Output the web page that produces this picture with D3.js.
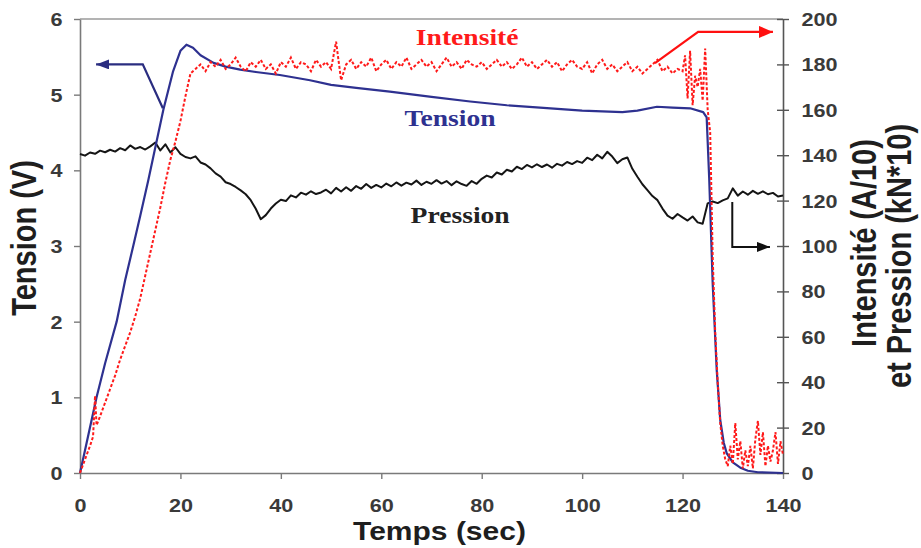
<!DOCTYPE html>
<html>
<head>
<meta charset="utf-8">
<script src="https://cdn.jsdelivr.net/npm/d3@7"></script>
<style>
  body { margin: 0; background: #fff; }
  svg { display: block; }
</style>
</head>
<body>
<svg id="chart" width="921" height="548"></svg>
<script>
// Welding run: voltage (left axis), current and electrode force (right axis) versus time.

const timeTicks = [0, 20, 40, 60, 80, 100, 120, 140];
const voltTicks = [0, 1, 2, 3, 4, 5, 6];
const rightTicks = [0, 20, 40, 60, 80, 100, 120, 140, 160, 180, 200];

// Tension (V): [time s, volts]
const tension = [
  [0,0],[1,0.3],[3.3,1],[5,1.45],[7.3,2.0],[9,2.55],[10.6,3.0],[12,3.4],[13.6,3.87],
  [16.6,4.8],[18.5,5.3],[20,5.58],[21.2,5.66],[22.5,5.62],[24,5.52],[26.6,5.42],
  [29,5.37],[31.9,5.33],[35,5.3],[39.8,5.26],[45.8,5.19],[50,5.13],[55,5.09],
  [61.7,5.04],[70,4.97],[77.7,4.91],[85,4.86],[91.6,4.83],[100,4.79],[108,4.77],
  [111,4.79],[114.9,4.84],[118,4.83],[121.5,4.82],[124.1,4.77],[124.8,4.7],
  [125.3,3.9],[126,2.5],[126.8,1.36],[127.5,0.7],[128.2,0.4],[128.8,0.26],
  [130,0.14],[131.5,0.07],[133,0.03],[135,0.01],[140,0]
];

// Intensité (A/10): [time s, value]
const intensite = [
  [0,0],[1,6],[2,12],[2.6,16],[3,34],[3.3,21],[4,25],[5,31],[6,37],[7,43],[8,50],
  [9,56],[10,62],[11,69],[12,77],[13,87],[14,97],[15,107],[16,117],[17,128],[18,138],
  [19,146],[20,155],[21,166],[22,176],
  [23,178],[24,180],[25,177],[26,181],[27,179],[28,182],[29,178],[30,180],[31,183],
  [32,179],[33,177],[34,181],[35,179],[36,182],[37,178],[38,180],[39,176],[40,181],
  [41,179],[42,183],[43,178],[44,181],[45,180],[46,177],[47,182],[48,179],[49,181],
  [50,178],[51,190],[52,173],[53,180],[54,182],[55,178],[56,181],[57,179],[58,183],
  [59,177],[60,180],[61,182],[62,178],[63,181],[64,179],[65,183],[66,178],[67,180],
  [68,182],[69,179],[70,181],[71,177],[72,180],[73,183],[74,179],[75,181],[76,178],
  [77,182],[78,180],[79,179],[80,181],[81,178],[82,180],[83,182],[84,179],[85,181],
  [86,178],[87,180],[88,183],[89,179],[90,181],[91,178],[92,180],[93,182],[94,179],
  [95,181],[96,177],[97,180],[98,182],[99,179],[100,178],[101,181],[102,176],[103,180],
  [104,182],[105,178],[106,180],[107,177],[108,179],[109,181],[110,177],[111,179],
  [112,176],[113,178],[114,180],[115,182],[116,177],[117,179],[118,176],[119,178],
  [120,177],[120.5,184],[121,165],[121.5,186],[122,162],[122.5,175],[123,170],
  [123.5,178],[124,164],[124.5,187],[125,160],[125.5,150],[126,95],[126.5,62],
  [127,40],[127.5,22],[128,12],[128.5,6],[129,3],[129.5,12],[130,4],[130.5,22],
  [131,6],[131.5,14],[132,2],[132.5,10],[133,3],[133.5,12],[134,2],[134.5,15],
  [135,23],[135.5,8],[136,18],[136.5,3],[137,12],[137.5,5],[138,10],[138.5,18],
  [139,4],[139.5,14],[140,8]
];

// Pression (kN*10), one reading per second from 0 to 140 s
const pression = [
  140.5,139.8,141.2,140.6,142.0,141.3,142.4,141.6,143.1,142.2,
  144.3,142.8,143.6,142.5,143.9,145.6,142.1,144.8,141.2,143.5,
  140.6,139.2,138.6,139.5,136.8,135.9,134.2,132.0,130.6,128.1,
  127.3,126.0,124.5,122.8,120.2,116.4,111.8,113.6,116.5,118.7,
  120.4,119.8,122.3,121.4,123.5,122.6,124.1,122.9,123.6,124.8,
  123.2,125.6,124.0,125.9,124.3,126.4,125.2,127.3,125.6,126.9,
  125.8,127.5,126.3,128.0,126.6,127.9,127.1,128.8,126.9,128.3,
  127.4,129.0,127.5,128.6,126.8,128.5,127.3,126.5,128.6,127.4,
  129.6,131.0,130.2,132.4,131.5,133.6,132.8,134.9,133.9,135.7,
  134.6,136.0,134.8,135.9,134.5,136.2,135.4,137.0,136.1,137.4,
  136.6,138.9,137.8,140.2,138.6,141.5,139.4,136.5,138.2,139.0,
  134.0,130.5,127.2,124.6,122.0,120.2,116.5,113.4,112.0,114.1,
  112.6,111.2,113.0,110.4,109.8,118.8,119.6,118.9,120.1,121.0,
  125.4,122.2,124.0,122.6,124.3,123.0,124.1,122.8,123.4,121.8,
  122.2
];

// Callout arrows, in data units: [time, value]
const arrowTension = [[16.5,4.82],[12.5,5.4],[3.2,5.4]];        // left axis
const arrowIntensite = [[114.5,180.6],[123.1,194.3],[138,194.3]]; // right axis
const arrowPression = [[129.9,119.4],[129.9,99.6],[137.4,99.6]];  // right axis

const svg = d3.select("#chart");
const x = d3.scaleLinear().domain([0, 140]).range([80, 783]);
const yL = d3.scaleLinear().domain([0, 6]).range([473, 19]);
const yR = d3.scaleLinear().domain([0, 200]).range([473, 19]);

const SANS = "'Liberation Sans', Arial, sans-serif";
const SERIF = "'Liberation Serif', 'Times New Roman', serif";
const STRETCH = "scale(1.2,1)";

// arrowhead markers
const defs = svg.append("defs");
function marker(id, color, w, h) {
  defs.append("marker")
    .attr("id", id)
    .attr("viewBox", `0 0 ${w} ${h}`)
    .attr("refX", w).attr("refY", h / 2)
    .attr("markerWidth", w).attr("markerHeight", h)
    .attr("markerUnits", "userSpaceOnUse")
    .attr("orient", "auto")
    .append("path")
    .attr("d", `M0,0L${w},${h / 2}L0,${h}Z`)
    .attr("fill", color);
}
marker("headBlue", "#2a2d80", 13, 10);
marker("headRed", "#ff1010", 14, 12);
marker("headBlack", "#111", 13, 10);

// frame: top border
svg.append("line")
  .attr("x1", x(0)).attr("x2", x(140)).attr("y1", yL(6)).attr("y2", yL(6))
  .attr("stroke", "#9a9a9a").attr("stroke-width", 1.5);

// axes
function styleAxis(g) {
  g.select(".domain").attr("stroke", "#7a7a7a").attr("stroke-width", 1.6);
  g.selectAll(".tick line").attr("stroke", "#7a7a7a").attr("stroke-width", 1.4);
  g.selectAll(".tick text")
    .attr("fill", "#3a3a3a")
    .style("font-family", SANS)
    .style("font-weight", "bold")
    .style("font-size", "18px");
}

const gx = svg.append("g").attr("transform", `translate(0,${yL(0)})`)
  .call(d3.axisBottom(x).tickValues(timeTicks).tickFormat(d3.format("d"))
    .tickSize(6).tickSizeOuter(0));
styleAxis(gx);
gx.selectAll(".tick text").attr("y", 39).attr("dy", null)
  .attr("transform", STRETCH);

const gl = svg.append("g").attr("transform", `translate(${x(0)},0)`)
  .call(d3.axisLeft(yL).tickValues(voltTicks).tickFormat(d3.format("d"))
    .tickSize(6).tickSizeOuter(0));
styleAxis(gl);
gl.selectAll(".tick text").attr("x", -14.5).attr("dy", "0.36em")
  .attr("transform", STRETCH);

const gr = svg.append("g").attr("transform", `translate(${x(140)},0)`)
  .call(d3.axisRight(yR).tickValues(rightTicks).tickFormat(d3.format("d"))
    .tickSize(6).tickSizeOuter(0));
styleAxis(gr);
gr.select(".domain").attr("stroke", "#555");
gr.selectAll(".tick line").attr("x1", -6).attr("x2", 6).attr("stroke", "#555");
gr.selectAll(".tick text").attr("x", 15.5).attr("dy", "0.36em")
  .attr("transform", STRETCH);

// axis titles
svg.append("text")
  .attr("transform", `translate(${x(70) + 8},540) ${STRETCH}`)
  .attr("text-anchor", "middle")
  .style("font-family", SANS).style("font-weight", "bold").style("font-size", "25px")
  .attr("fill", "#1e1e1e")
  .text("Temps (sec)");

svg.append("text")
  .attr("transform", `translate(36,238) ${STRETCH} rotate(-90)`)
  .attr("text-anchor", "middle")
  .style("font-family", SANS).style("font-weight", "bold").style("font-size", "29px")
  .attr("fill", "#1e1e1e")
  .text("Tension (V)");

svg.append("text")
  .attr("transform", `translate(876,243) ${STRETCH} rotate(-90)`)
  .attr("text-anchor", "middle")
  .style("font-family", SANS).style("font-weight", "bold").style("font-size", "29px")
  .attr("fill", "#1e1e1e")
  .text("Intensité (A/10)");

svg.append("text")
  .attr("transform", `translate(911,256) ${STRETCH} rotate(-90)`)
  .attr("text-anchor", "middle")
  .style("font-family", SANS).style("font-weight", "bold").style("font-size", "29px")
  .attr("fill", "#1e1e1e")
  .text("et Pression (kN*10)");

// series
const lineR = d3.line().x(d => x(d[0])).y(d => yR(d[1]));
const lineL = d3.line().x(d => x(d[0])).y(d => yL(d[1]));

svg.append("path")
  .datum(pression.map((v, i) => [i, v]))
  .attr("d", lineR)
  .attr("fill", "none").attr("stroke", "#151515").attr("stroke-width", 2)
  .attr("stroke-linejoin", "round");

svg.append("path")
  .datum(tension)
  .attr("d", lineL)
  .attr("fill", "none").attr("stroke", "#2e3190").attr("stroke-width", 2.2)
  .attr("stroke-linejoin", "round");

svg.append("path")
  .datum(intensite)
  .attr("d", lineR)
  .attr("fill", "none").attr("stroke", "#ff1a1a").attr("stroke-width", 2)
  .attr("stroke-dasharray", "3,2");

// callout arrows
svg.append("path")
  .datum(arrowTension)
  .attr("d", lineL)
  .attr("fill", "none").attr("stroke", "#2a2d80").attr("stroke-width", 2.2)
  .attr("marker-end", "url(#headBlue)");

svg.append("path")
  .datum(arrowIntensite)
  .attr("d", lineR)
  .attr("fill", "none").attr("stroke", "#ff1010").attr("stroke-width", 2.2)
  .attr("marker-end", "url(#headRed)");

svg.append("path")
  .datum(arrowPression)
  .attr("d", lineR)
  .attr("fill", "none").attr("stroke", "#111").attr("stroke-width", 2)
  .attr("marker-end", "url(#headBlack)");

// series labels
function seriesLabel(txt, color, cx, cy) {
  svg.append("text")
    .attr("transform", `translate(${cx},${cy}) ${STRETCH}`)
    .attr("text-anchor", "middle")
    .style("font-family", SERIF).style("font-weight", "bold").style("font-size", "23px")
    .attr("fill", color)
    .text(txt);
}
seriesLabel("Intensité", "#ff1a1a", x(77.1), 45);
seriesLabel("Tension", "#2e3190", x(73.7), 126);
seriesLabel("Pression", "#222", x(75.7), 223);
</script>
</body>
</html>
